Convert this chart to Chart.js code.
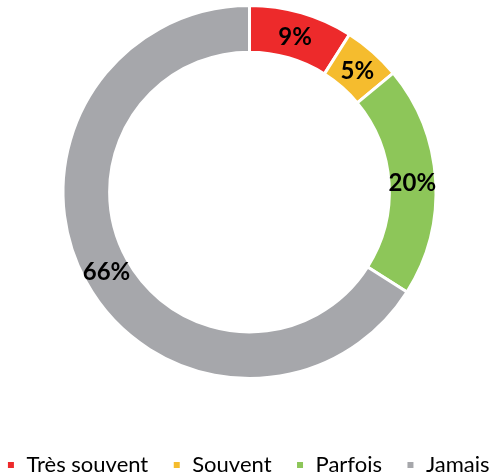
<!DOCTYPE html>
<html>
<head>
<meta charset="utf-8">
<script src="https://cdn.jsdelivr.net/npm/chart.js@4.4.1/dist/chart.umd.min.js"></script>
<style>
  html, body { margin: 0; padding: 0; background: #fff; }
  #wrap { width: 499px; height: 475px; }
</style>
</head>
<body>
<div id="wrap"><canvas id="chart"></canvas></div>
<script>
// Données du graphique
const categories = ['Très souvent', 'Souvent', 'Parfois', 'Jamais'];
const values = [9, 5, 20, 66];
const colors = ['#ED2A2B', '#F5BC2E', '#8DC659', '#A6A7AB'];

// Étiquettes de pourcentage au milieu de chaque segment
const percentLabels = {
    id: 'percentLabels',
    afterDatasetsDraw(chart) {
        const ctx = chart.ctx;
        const meta = chart.getDatasetMeta(0);
        ctx.save();
        ctx.font = 'bold 24px Lato';
        ctx.fillStyle = '#000';
        ctx.textAlign = 'center';
        ctx.textBaseline = 'middle';
        meta.data.forEach((arc, i) => {
            const pos = arc.tooltipPosition();
            ctx.fillText(values[i] + '%', pos.x, pos.y + 2);
        });
        ctx.restore();
    }
};

const ctx = document.getElementById('chart').getContext('2d');
const chart = new Chart(ctx, {
    type: 'doughnut',
    data: {
        labels: categories,
        datasets: [{
            data: values,
            backgroundColor: colors,
            borderColor: '#ffffff',
            borderWidth: 3
        }]
    },
    options: {
        responsive: true,
        maintainAspectRatio: false,
        animation: false,
        radius: 186.5,
        cutout: '75%',
        // marges négatives : légende plus large et plus bas
        layout: { padding: { left: -19, right: -16, top: 0, bottom: -11 } },
        plugins: {
            tooltip: { enabled: false },
            // espace vide entre l'anneau et la légende
            title: {
                display: true,
                text: '',
                position: 'bottom',
                weight: 0,
                font: { size: 1, lineHeight: 1 },
                padding: { top: 0, bottom: 45 }
            },
            legend: {
                position: 'bottom',
                weight: 1000,
                labels: {
                    boxWidth: 9,
                    boxHeight: 9,
                    padding: 24,
                    color: '#000',
                    font: { family: 'Lato', size: 22 }
                }
            }
        }
    },
    plugins: [percentLabels]
});
</script>
</body>
</html>
